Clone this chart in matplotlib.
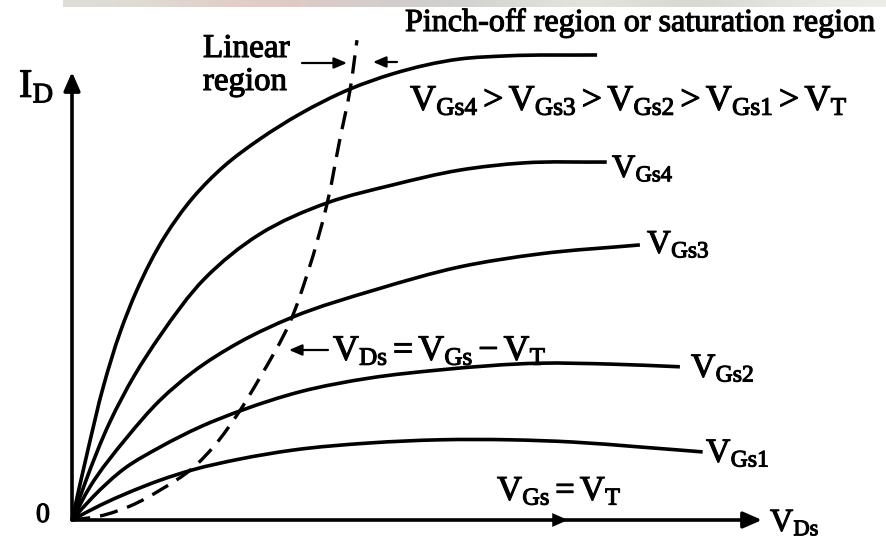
import numpy as np
import matplotlib
matplotlib.use("Agg")
import matplotlib.pyplot as plt
from matplotlib import patheffects as pe
from matplotlib.path import Path
from matplotlib.patches import PathPatch

# ---------------------------------------------------------------
# MOSFET drain characteristics: I_D versus V_DS for several V_GS
# (V_DS and I_D in arbitrary units)
# ---------------------------------------------------------------
vds_top = [0, 0.23, 0.46, 0.70, 0.94, 1.35, 1.75, 2.22, 2.72, 3.30, 4.03, 4.65, 5.62, 6.30, 7.61]
id_top = [0, 1.56, 3.01, 4.20, 5.13, 6.34, 7.19, 7.92, 8.50, 9.06, 9.62, 9.96, 10.29, 10.36, 10.38]

vds_gs4 = [0, 0.19, 0.55, 0.91, 1.28, 1.93, 2.72, 3.70, 4.65, 5.62, 6.54, 7.75]
id_gs4 = [0, 0.83, 2.19, 3.24, 4.12, 5.40, 6.38, 7.08, 7.48, 7.81, 7.97, 7.99]

vds_gs3 = [0, 0.26, 0.80, 1.28, 1.75, 2.43, 3.20, 4.42, 5.62, 6.78, 8.23]
id_gs3 = [0, 0.74, 1.85, 2.68, 3.30, 3.97, 4.53, 5.15, 5.65, 5.94, 6.14]

vds_gs2 = [0, 0.30, 0.77, 1.28, 1.86, 2.48, 3.30, 4.32, 5.33, 6.78, 7.80, 8.81]
id_gs2 = [0, 0.51, 1.16, 1.63, 2.08, 2.46, 2.86, 3.17, 3.35, 3.50, 3.48, 3.42]

vds_gs1 = [0, 0.41, 0.80, 1.28, 1.75, 2.43, 3.20, 4.32, 5.33, 6.35, 7.26, 8.23, 9.14]
id_gs1 = [0, 0.33, 0.60, 0.89, 1.12, 1.36, 1.56, 1.72, 1.79, 1.79, 1.74, 1.63, 1.52]

# pinch-off boundary V_DS = V_GS - V_T
vds_pinch = [0, 0.41, 0.84, 1.28, 1.75, 2.07, 2.39, 2.72, 3.16, 3.42, 3.70, 3.88, 4.03, 4.13]
id_pinch = [0, 0.09, 0.31, 0.67, 1.16, 1.67, 2.34, 3.17, 4.42, 5.54, 7.08, 8.48, 9.60, 10.71]

curve_labels = [r"$\mathrm{V_{Gs4}}$", r"$\mathrm{V_{Gs3}}$", r"$\mathrm{V_{Gs2}}$", r"$\mathrm{V_{Gs1}}$"]

# ---------------------------------------------------------------
W, H = 887, 541
plt.rcParams["font.family"] = ["Liberation Serif", "DejaVu Serif"]
plt.rcParams["mathtext.fontset"] = "custom"
plt.rcParams["mathtext.rm"] = "Liberation Serif"
plt.rcParams["mathtext.it"] = "Liberation Serif:italic"
plt.rcParams["mathtext.bf"] = "Liberation Serif:bold"

fig = plt.figure(figsize=(W / 100, H / 100), dpi=100)
fig.patch.set_facecolor("white")

# axes mapping: origin at pixel (72, 520), 69 px per V_DS unit, 44.8 px per I_D unit
X0, Y0, SX, SY = 72, 520, 69.0, 44.8
ax = fig.add_axes([0, 0, 1, 1])
ax.set_xlim(-X0 / SX, (W - X0) / SX)
ax.set_ylim((Y0 - H) / SY, Y0 / SY)
ax.axis("off")

# faint strip across the top edge
strip = fig.add_axes([63 / W, 1 - 7 / H, 1 - 63 / W, 7 / H])
stops = np.array([
    [222, 222, 216], [224, 214, 208], [226, 200, 196], [214, 206, 204],
    [205, 205, 205], [218, 218, 214], [232, 232, 226], [212, 212, 206],
    [226, 226, 222], [236, 236, 232],
]) / 255.0
strip.imshow(stops[np.newaxis, :, :], aspect="auto", interpolation="bicubic")
strip.axis("off")


def smooth_path(xs, ys):
    """Cubic Bezier path through every (x, y) sample (chord-length Hermite tangents)."""
    p = np.column_stack([np.asarray(xs) * SX, np.asarray(ys) * SY])
    n = len(p)
    t = np.concatenate([[0], np.cumsum(np.hypot(*np.diff(p, axis=0).T))])
    m = np.zeros_like(p)
    m[0] = (p[1] - p[0]) / (t[1] - t[0])
    m[-1] = (p[-1] - p[-2]) / (t[-1] - t[-2])
    for i in range(1, n - 1):
        d0 = (p[i] - p[i - 1]) / (t[i] - t[i - 1])
        d1 = (p[i + 1] - p[i]) / (t[i + 1] - t[i])
        w0, w1 = t[i + 1] - t[i], t[i] - t[i - 1]
        m[i] = (w0 * d0 + w1 * d1) / (w0 + w1)
    verts = [p[0]]
    codes = [Path.MOVETO]
    for i in range(n - 1):
        h = t[i + 1] - t[i]
        verts += [p[i] + m[i] * h / 3.0, p[i + 1] - m[i + 1] * h / 3.0, p[i + 1]]
        codes += [Path.CURVE4] * 3
    v = np.array(verts) / np.array([SX, SY])
    return Path(v, codes)


for xs, ys in [(vds_top, id_top), (vds_gs4, id_gs4), (vds_gs3, id_gs3),
               (vds_gs2, id_gs2), (vds_gs1, id_gs1)]:
    ax.add_patch(PathPatch(smooth_path(xs, ys), fill=False, edgecolor="black",
                           lw=2.6, capstyle="butt", joinstyle="round", zorder=3))

ax.add_patch(PathPatch(smooth_path(vds_pinch, id_pinch), fill=False,
                       edgecolor="black", lw=2.4, linestyle=(0, (5.5, 3.0)),
                       capstyle="butt", zorder=3))

# coordinate axes with arrowheads
axis_arrow = dict(arrowstyle="-|>,head_length=0.8,head_width=0.35",
                  color="black", lw=2.6, mutation_scale=14,
                  shrinkA=0, shrinkB=0)
ax.annotate("", xy=(0, (Y0 - 72) / SY), xytext=(0, 0), arrowprops=axis_arrow)
ax.annotate("", xy=((762 - X0) / SX, 0), xytext=(0, 0), arrowprops=axis_arrow)
ax.annotate("", xy=((568 - X0) / SX, 0), xytext=((540 - X0) / SX, 0),
            arrowprops=dict(axis_arrow, lw=0.1))


def fpos(x, y):
    """Pixel position (from top-left) to figure fraction."""
    return x / W, 1 - y / H


renderer = fig.canvas.get_renderer()
heavy = [pe.withStroke(linewidth=0.8, foreground="black")]


def put(s, x, y, width, **kw):
    t = fig.text(*fpos(x, y), s, ha="left", va="baseline", fontsize=20,
                 color="black", path_effects=heavy, **kw)
    w = t.get_window_extent(renderer).width
    t.set_fontsize(20 * width / w)
    return t


put("Pinch-off region or saturation region", 405, 31, 470)
put("Linear", 203, 57, 87)
put("region", 203, 90, 84)
put(r"$\mathrm{V_{Gs4} > V_{Gs3} > V_{Gs2} > V_{Gs1} > V_T}$", 410, 110, 438)

label_pos = [(612, 177, 62), (647, 253, 63), (691, 377, 64), (706, 462, 64)]
for s, (x, y, w) in zip(curve_labels, label_pos):
    put(s, x, y, w)

put(r"$\mathrm{V_{Ds} = V_{Gs} - V_T}$", 333, 360, 214)
put(r"$\mathrm{V_{Gs} = V_T}$", 497, 500, 125)
put(r"$\mathrm{V_{Ds}}$", 770, 531, 50)
put(r"$\mathrm{I_D}$", 19, 97, 36)
fig.text(*fpos(36, 522), "0", ha="left", va="baseline", fontsize=20,
         color="black", path_effects=heavy)

# small pointer arrows
small = dict(arrowstyle="-|>,head_length=0.7,head_width=0.3", color="black",
             lw=1.6, mutation_scale=11, shrinkA=0, shrinkB=0)
ax.annotate("", xy=fpos(347, 63), xytext=fpos(302, 63), xycoords="figure fraction",
            textcoords="figure fraction", arrowprops=small)
ax.annotate("", xy=fpos(373, 62), xytext=fpos(397, 62), xycoords="figure fraction",
            textcoords="figure fraction", arrowprops=small)
ax.annotate("", xy=fpos(289, 350), xytext=fpos(328, 350), xycoords="figure fraction",
            textcoords="figure fraction", arrowprops=small)

fig.savefig("out.png", dpi=100, facecolor="white")
